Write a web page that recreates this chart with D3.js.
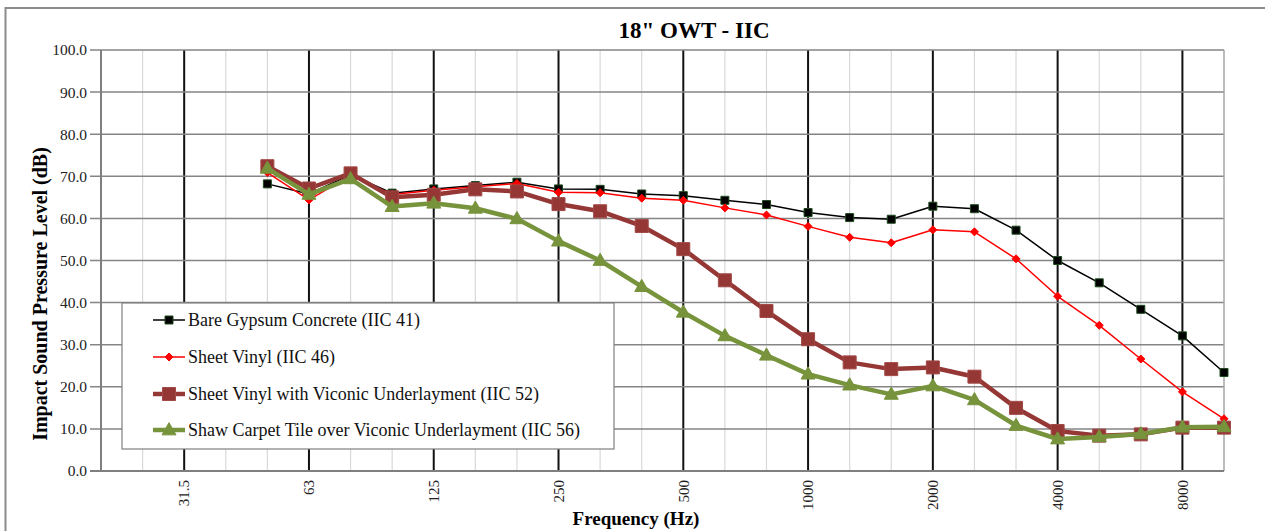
<!DOCTYPE html>
<html>
<head>
<meta charset="utf-8">
<script src="https://cdn.jsdelivr.net/npm/d3@7/dist/d3.min.js"></script>
<style>
  html, body { margin: 0; padding: 0; background: #fff; }
  svg { display: block; }
</style>
</head>
<body>
<svg id="chart" width="1265" height="531"></svg>
<script>
// ---- Data ----
const categories = ["20","25","31.5","40","50","63","80","100","125","160","200","250","315","400","500","630","800","1000","1250","1600","2000","2500","3150","4000","5000","6300","8000","10000"];
const tickLabels = ["31.5","63","125","250","500","1000","2000","4000","8000"];
const measuredBands = ["50","63","80","100","125","160","200","250","315","400","500","630","800","1000","1250","1600","2000","2500","3150","4000","5000","6300","8000","10000"];
const bareGypsum   = [68.2,65.8,70.4,66.0,67.0,67.8,68.6,67.0,66.9,65.8,65.4,64.3,63.3,61.4,60.2,59.8,62.9,62.3,57.2,50.0,44.7,38.4,32.1,23.4];
const sheetVinyl   = [70.9,64.4,70.2,65.7,66.7,67.5,68.3,66.2,66.1,64.8,64.3,62.5,60.8,58.1,55.5,54.2,57.3,56.8,50.4,41.5,34.6,26.6,18.8,12.4];
const vinylViconic = [72.4,67.1,70.7,65.0,65.6,66.9,66.4,63.4,61.7,58.2,52.7,45.3,38.0,31.3,25.8,24.2,24.6,22.4,15.0,9.5,8.4,8.7,10.3,10.3];
const carpetViconic= [71.9,65.7,69.4,62.8,63.6,62.4,59.9,54.6,50.0,43.8,37.7,32.1,27.5,23.0,20.4,18.2,20.2,16.9,10.8,7.6,8.1,8.8,10.4,10.5];
const seriesNames = ["Bare Gypsum Concrete (IIC 41)","Sheet Vinyl (IIC 46)","Sheet Vinyl with Viconic Underlayment (IIC 52)","Shaw Carpet Tile over Viconic Underlayment (IIC 56)"];
const yTicks = [0,10,20,30,40,50,60,70,80,90,100];

const FONT = "'Liberation Serif'";

// ---- Layout ----
const svg = d3.select("#chart");
const L = 101, R = 1224, T = 50, B = 471;
const x = d3.scalePoint().domain(categories).range([L, R]);
const y = d3.scaleLinear().domain([0, 100]).range([B, T]);

// outer chart border (extends beyond view)
svg.append("rect").attr("x", 5.5).attr("y", 8).attr("width", 1400).attr("height", 700)
  .attr("fill", "none").attr("stroke", "#8c8c8c").attr("stroke-width", 2);

// vertical grid lines
const g = svg.append("g");
categories.forEach((c, i) => {
  if (i === 0 || i === categories.length - 1) return;
  const major = tickLabels.includes(c);
  g.append("line").attr("x1", x(c)).attr("x2", x(c)).attr("y1", T).attr("y2", B)
    .attr("stroke", major ? "#111" : "#d9d9d9").attr("stroke-width", major ? 2 : 1.2);
});
// horizontal grid lines
yTicks.forEach(v => {
  if (v === 0) return;
  g.append("line").attr("x1", L - 11).attr("x2", R).attr("y1", y(v)).attr("y2", y(v))
    .attr("stroke", "#858585").attr("stroke-width", 1.5);
});
// right border
g.append("line").attr("x1", R).attr("x2", R).attr("y1", T).attr("y2", B)
  .attr("stroke", "#a6a6a6").attr("stroke-width", 1.5);
// axis lines
g.append("line").attr("x1", L - 11).attr("x2", R).attr("y1", B).attr("y2", B)
  .attr("stroke", "#7f7f7f").attr("stroke-width", 2);
g.append("line").attr("x1", L).attr("x2", L).attr("y1", T).attr("y2", B)
  .attr("stroke", "#7f7f7f").attr("stroke-width", 2);

// y tick labels
yTicks.forEach(v => {
  svg.append("text").attr("x", 87).attr("y", y(v)).attr("dy", "0.35em")
    .attr("font-family", FONT)
    .attr("text-anchor", "end").attr("font-size", 15.5).attr("fill", "#222")
    .text(v.toFixed(1));
});
// x tick labels
tickLabels.forEach(lbl => {
  svg.append("text").attr("transform", `translate(${x(lbl)},480) rotate(-90)`)
    .attr("font-family", FONT)
    .attr("text-anchor", "end").attr("dy", "0.35em").attr("font-size", 15).attr("fill", "#222")
    .text(lbl);
});

// titles
svg.append("text").attr("x", 694).attr("y", 38).attr("text-anchor", "middle").attr("font-family", FONT)
  .attr("font-size", 23).attr("font-weight", "bold").text('18" OWT - IIC');
svg.append("text").attr("x", 636).attr("y", 525).attr("text-anchor", "middle").attr("font-family", FONT)
  .attr("font-size", 19).attr("font-weight", "bold").text("Frequency (Hz)");
svg.append("text").attr("transform", "translate(40,294) rotate(-90)").attr("text-anchor", "middle")
  .attr("font-family", FONT)
  .attr("dy", "0.35em").attr("font-size", 20).attr("font-weight", "bold")
  .text("Impact Sound Pressure Level (dB)");

// ---- Series ----
const styles = [
  {values: bareGypsum,   color: "#000", width: 1.5, marker: "square", size: 8,  fill: "#000", stroke: "#1f4a1f"},
  {values: sheetVinyl,   color: "#ff0000", width: 1.5, marker: "diamond", size: 8, fill: "#ff0000", stroke: "#ff0000"},
  {values: vinylViconic, color: "#953735", width: 4.5, marker: "square", size: 13, fill: "#953735", stroke: "#a24a48"},
  {values: carpetViconic,color: "#77933c", width: 4.5, marker: "triangle", size: 14, fill: "#77933c", stroke: "#77933c"}
];
function markerPath(type, s) {
  const h = s / 2;
  if (type === "square") return `M${-h},${-h}H${h}V${h}H${-h}Z`;
  if (type === "diamond") return `M0,${-h}L${h},0L0,${h}L${-h},0Z`;
  const th = s * 0.87;
  return `M0,${-th * 0.6}L${h},${th * 0.4}L${-h},${th * 0.4}Z`;
}
const line = d3.line().x(d => x(d.band)).y(d => y(d.v));
styles.forEach(st => {
  const pts = measuredBands.map((b, i) => ({band: b, v: st.values[i]}));
  svg.append("path").datum(pts).attr("d", line).attr("fill", "none")
    .attr("stroke", st.color).attr("stroke-width", st.width).attr("stroke-linejoin", "round");
  svg.append("g").selectAll("path").data(pts).join("path")
    .attr("transform", d => `translate(${x(d.band)},${y(d.v)})`)
    .attr("d", markerPath(st.marker, st.size))
    .attr("fill", st.fill).attr("stroke", st.stroke).attr("stroke-width", 1);
});

// ---- Legend ----
const lg = svg.append("g");
lg.append("rect").attr("x", 122).attr("y", 303).attr("width", 492).attr("height", 146)
  .attr("fill", "#fff").attr("stroke", "#7f7f7f").attr("stroke-width", 1.2);
const legendY = [320, 357, 394, 430];
styles.forEach((st, i) => {
  const yy = legendY[i];
  lg.append("line").attr("x1", 153).attr("x2", 185).attr("y1", yy).attr("y2", yy)
    .attr("stroke", st.color).attr("stroke-width", st.width);
  lg.append("path").attr("transform", `translate(169,${yy})`).attr("d", markerPath(st.marker, st.size))
    .attr("fill", st.fill).attr("stroke", st.stroke).attr("stroke-width", 1);
  lg.append("text").attr("x", 188).attr("y", yy).attr("dy", "0.35em").attr("font-family", FONT)
    .attr("font-size", 18).attr("fill", "#111").text(seriesNames[i]);
});
</script>
</body>
</html>
